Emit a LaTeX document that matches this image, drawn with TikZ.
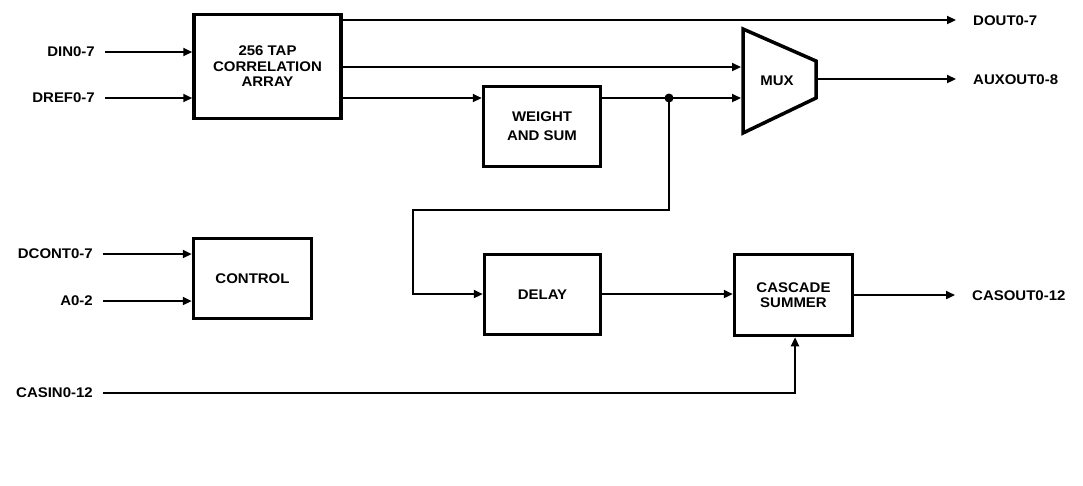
\documentclass[tikz,border=0pt]{standalone}
\usepackage{fontspec}
\setmainfont[FakeStretch=1.07]{Liberation Sans}
\usetikzlibrary{arrows.meta}
\begin{document}
\begin{tikzpicture}[x=1pt,y=-1pt,
  blk/.style={draw,line width=3.5pt,align=center,inner sep=0pt},
  lbl/.style={inner sep=0pt},
  wire/.style={line width=2.2pt},
  arr/.style={wire,-{Triangle[length=9pt,width=8pt]}},
  every node/.append style={font=\fontsize{14}{15.5}\selectfont\bfseries}]
\useasboundingbox (0,0) rectangle (1083,485);
% blocks
\node[blk,minimum width=147pt,minimum height=104pt] (corr) at (267.5,66.5) {256 TAP\\CORRELATION\\ARRAY};
\node[blk,minimum width=117pt,minimum height=80pt] (wsum) at (542,126.5) {WEIGHT\\[3.5pt]AND SUM};
\node[blk,minimum width=118pt,minimum height=80pt] (ctrl) at (252.5,278.5) {CONTROL};
\node[blk,minimum width=116pt,minimum height=80pt] (delay) at (542.5,294.5) {DELAY};
\node[blk,minimum width=118pt,minimum height=81pt] (casc) at (793.5,295) {CASCADE\\SUMMER};
% mux
\coordinate (m1) at (743,29);
\coordinate (m2) at (816,61);
\coordinate (m3) at (816,98);
\coordinate (m4) at (743,133);
\draw[line width=3.5pt,line join=miter] (m1) -- (m2) -- (m3) -- (m4) -- cycle;
\node[lbl] (mux) at (777,81) {MUX};
\coordinate (muxin1) at (741,67);
\coordinate (muxin2) at (741,98);
\coordinate (muxout) at (817,79);
% labels left
\node[lbl,anchor=east] (din) at (95,52) {DIN0-7};
\node[lbl,anchor=east] (dref) at (95,98) {DREF0-7};
\node[lbl,anchor=east] (dcont) at (93,254) {DCONT0-7};
\node[lbl,anchor=east] (a02) at (93,301) {A0-2};
\node[lbl,anchor=east] (casin) at (93,393) {CASIN0-12};
% labels right
\node[lbl,anchor=west] (dout) at (973,21) {DOUT0-7};
\node[lbl,anchor=west] (auxout) at (973,80) {AUXOUT0-8};
\node[lbl,anchor=west] (casout) at (972,296) {CASOUT0-12};
% coordinates
\coordinate (dinS) at (105,52);
\coordinate (drefS) at (105,98);
\coordinate (dcontS) at (103,254);
\coordinate (a02S) at (103,301);
\coordinate (casinS) at (103,393);
\coordinate (doutE) at (956,20);
\coordinate (auxE) at (956,79);
\coordinate (casE) at (955,295);
\coordinate (dot) at (669,98);
\coordinate (t1) at (669,210);
\coordinate (t2) at (413,210);
\coordinate (t3) at (413,294);
\coordinate (c1) at (795,393);
% connectors
\draw[arr] (dinS) -- (corr.west |- dinS);
\draw[arr] (drefS) -- (corr.west |- drefS);
\draw[arr] (dcontS) -- (ctrl.west |- dcontS);
\draw[arr] (a02S) -- (ctrl.west |- a02S);
\draw[arr] (corr.east |- doutE) -- (doutE);
\draw[arr] (corr.east |- muxin1) -- (muxin1);
\draw[arr] (corr.east |- drefS) -- (wsum.west |- drefS);
\draw[wire] (wsum.east |- dot) -- (dot);
\draw[arr] (dot) -- (muxin2);
\fill (dot) circle (4.5pt);
\draw[arr] (dot) -- (t1) -- (t2) -- (t3) -- (delay.west |- t3);
\draw[arr] (delay.east |- t3) -- (casc.west |- t3);
\draw[arr] (muxout) -- (auxE);
\draw[arr] (casc.east |- casE) -- (casE);
\draw[arr] (casinS) -- (c1) -- (casc.south -| c1);
\end{tikzpicture}
\end{document}
